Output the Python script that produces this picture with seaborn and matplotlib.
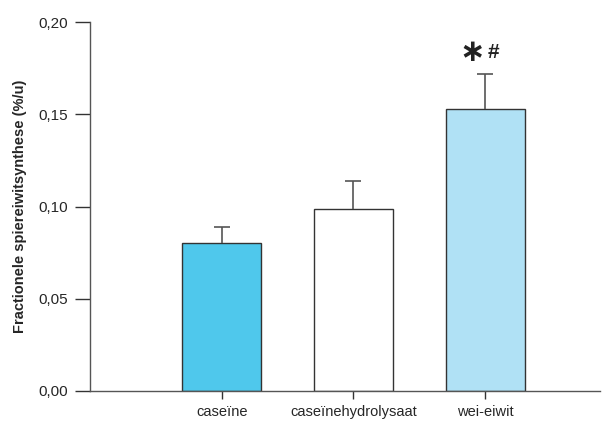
import matplotlib
matplotlib.use("Agg")
import matplotlib.pyplot as plt
import seaborn as sns
import numpy as np
import pandas as pd

categories = ["caseïne", "caseïnehydrolysaat", "wei-eiwit"]
values = [0.080, 0.0985, 0.1528]
errors = [0.0090, 0.0153, 0.0190]
colors = ["#4FC8EC", "#FFFFFF", "#B0E1F5"]
y_ticks = [0.00, 0.05, 0.10, 0.15, 0.20]
y_tick_labels = ["0,00", "0,05", "0,10", "0,15", "0,20"]

sns.set_style("white")
plt.rcParams['font.family'] = ['Liberation Sans', 'DejaVu Sans']

fig = plt.figure(figsize=(6.11, 4.21), dpi=100)
ax = fig.add_axes([0.147, 0.0713, 0.835, 0.8764])

df = pd.DataFrame({"cat": categories, "val": values})
sns.barplot(data=df, x="cat", y="val", hue="cat", palette=colors, legend=False,
            width=0.6, saturation=1, edgecolor="#333333", linewidth=1.0, ax=ax)

x = np.arange(len(categories))
eb = ax.errorbar(x, values, yerr=[np.zeros(len(values)), errors], fmt="none",
                 ecolor="#555555", elinewidth=1.2, capsize=5.5, capthick=1.2, zorder=1)
caps = eb[1]
if len(caps) >= 2:
    caps[0].set_visible(False)

ax.text(x[2] - 0.10, 0.1837, "∗", ha="center", va="center",
        fontsize=22, fontweight="bold", color="#222222", family="DejaVu Sans")
ax.text(x[2] + 0.065, 0.1835, "#", ha="center", va="center",
        fontsize=15, fontweight="bold", color="#222222")

ax.set_xlim(-1.0, 2.87)
ax.set_ylim(0, 0.20)
ax.set_yticks(y_ticks)
ax.set_yticklabels(y_tick_labels)
ax.set_xlabel("")
ax.set_ylabel("Fractionele spiereiwitsynthese (%/u)", fontsize=10.5, fontweight="bold", labelpad=8)

for s in ["top", "right"]:
    ax.spines[s].set_visible(False)
for s in ["left", "bottom"]:
    ax.spines[s].set_color("#555555")
    ax.spines[s].set_linewidth(1.0)

ax.tick_params(axis="y", which="major", direction="out", length=11, width=1, color="#333333",
               labelsize=11, pad=5, left=True)
ax.tick_params(axis="x", which="major", direction="out", length=6, width=1, color="#333333",
               labelsize=10.5, pad=4, bottom=True)

fig.savefig("out.png", dpi=100)
